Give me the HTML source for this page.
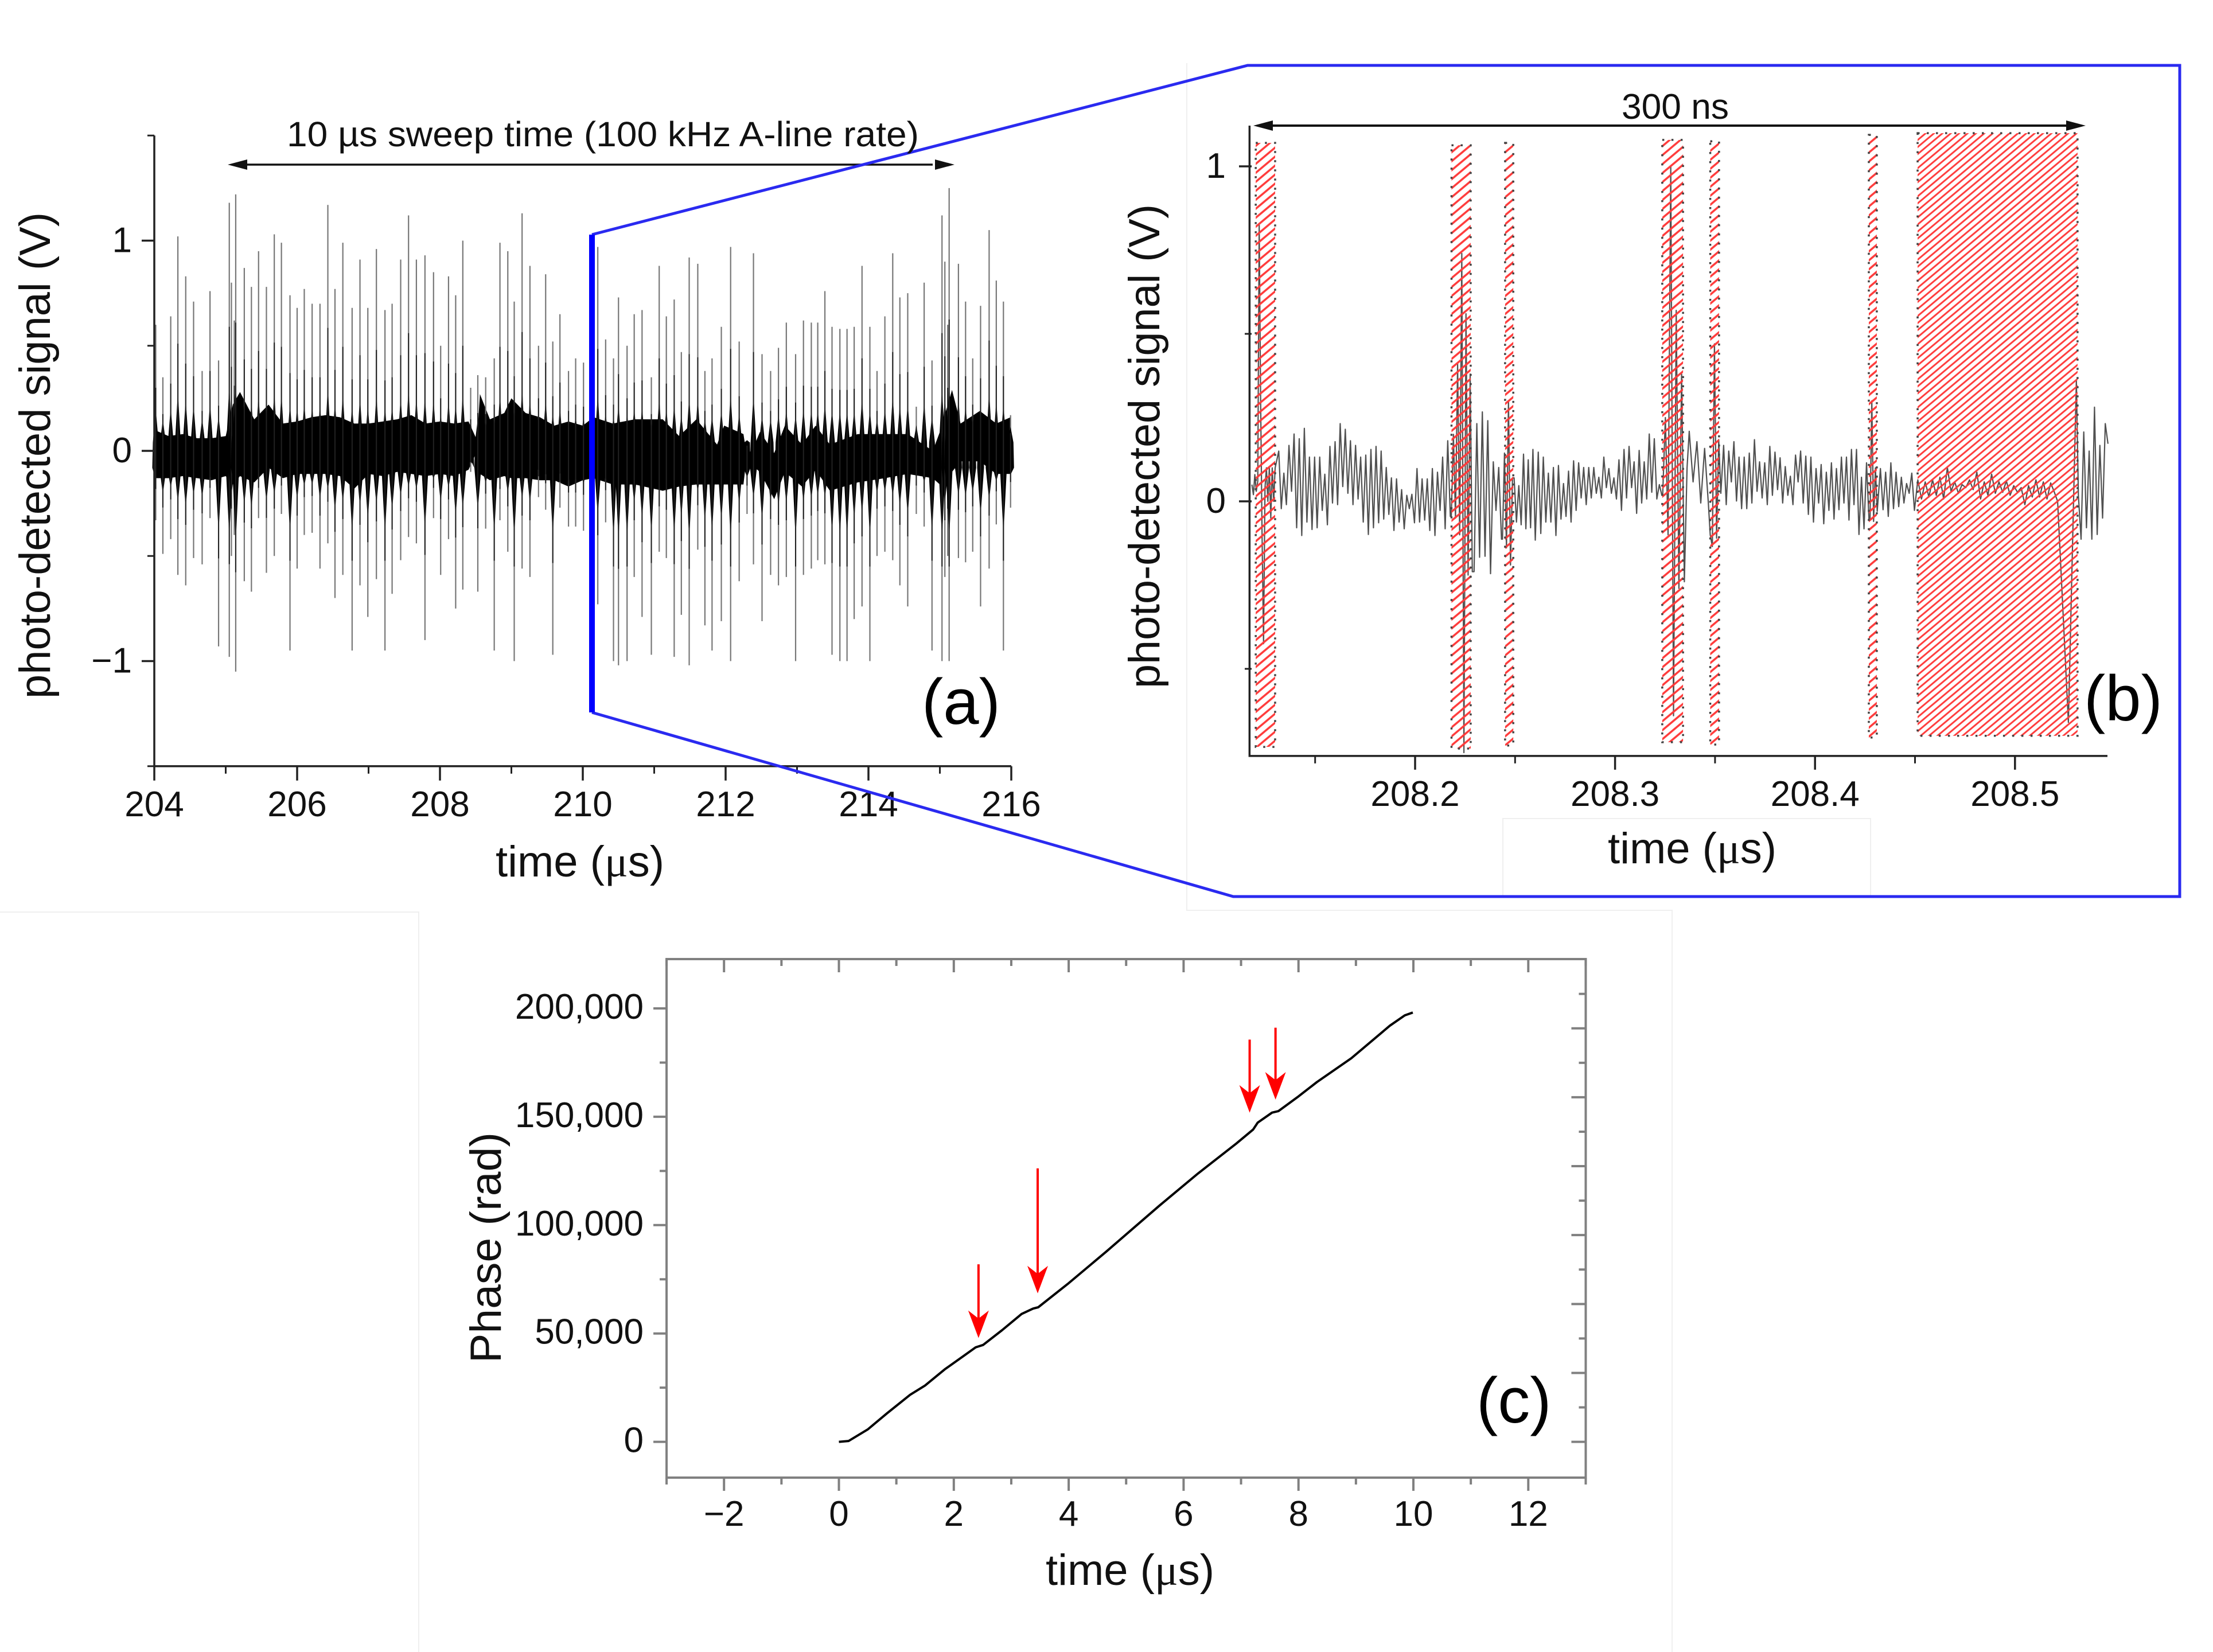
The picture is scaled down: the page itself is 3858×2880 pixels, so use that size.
<!DOCTYPE html>
<html lang="en">
<head>
<meta charset="utf-8">
<title>Photo-detected signal and phase</title>
<style>
html,body{margin:0;padding:0;background:#fff;}
svg{display:block;}
text{font-family:"Liberation Sans",sans-serif;fill:#111;}
.tick{font-size:62px;}
.title{font-size:76px;}
.serif{font-family:"Liberation Serif",serif;}
.panel{font-size:112px;fill:#000;}
</style>
</head>
<body>
<svg id="figure" xmlns="http://www.w3.org/2000/svg" width="3858" height="2880" viewBox="0 0 3858 2880">
  <defs>
    <pattern id="hatch-wide" patternUnits="userSpaceOnUse" width="40" height="12" patternTransform="rotate(-40)">
      <line x1="0" y1="6" x2="40" y2="6" stroke="#ff3a3a" stroke-width="3.6"/>
    </pattern>
    <pattern id="hatch-dense" patternUnits="userSpaceOnUse" width="40" height="9.4" patternTransform="rotate(-40)">
      <line x1="0" y1="4.7" x2="40" y2="4.7" stroke="#ff3a3a" stroke-width="3"/>
    </pattern>
  </defs>

  <g id="page-seams" stroke="#efefef" stroke-width="2" fill="none">
    <path d="M0 1590H730V2880"/>
    <path d="M2069 110V1587H2915V2880"/>
    <path d="M2620 1563V1427H3261V1563"/>
  </g>

  <g id="panel-a"></g>
  <g id="panel-b"></g>
  <g id="panel-c"></g>

  <g fill="none" stroke="#2a2af0">
    <path d="M1032 409L2175 114H3800V1563H2150L1032 1242" stroke-width="5"/>
    <line x1="1032" y1="409" x2="1032" y2="1242" stroke="#0000ff" stroke-width="10"/>
  </g>

  <text class="title" transform="translate(87 794) rotate(-90)" text-anchor="middle" textLength="848" lengthAdjust="spacingAndGlyphs">photo-detected signal (V)</text>
  <text class="title" x="1011" y="1528" text-anchor="middle">time (<tspan class="serif">μ</tspan>s)</text>
  <text x="500" y="255" font-size="61" textLength="1102" lengthAdjust="spacingAndGlyphs">10 µs sweep time (100 kHz A-line rate)</text>
  <text class="panel" x="1607" y="1262">(a)</text>

  <text class="title" transform="translate(2021 778) rotate(-90)" text-anchor="middle" textLength="844" lengthAdjust="spacingAndGlyphs">photo-detected signal (V)</text>
  <text class="title" x="2950" y="1505" text-anchor="middle">time (<tspan class="serif">μ</tspan>s)</text>
  <text x="2827" y="207" font-size="62" textLength="187" lengthAdjust="spacingAndGlyphs">300 ns</text>
  <text class="panel" x="3633" y="1256">(b)</text>

  <text class="title" transform="translate(873 2175) rotate(-90)" text-anchor="middle" textLength="402" lengthAdjust="spacingAndGlyphs">Phase (rad)</text>
  <text class="title" x="1970" y="2763" text-anchor="middle">time (<tspan class="serif">μ</tspan>s)</text>
  <text class="panel" x="2574" y="2480">(c)</text>
</svg>

<script>
// ---------- panel (a) data ----------
const aTickLabels = [204, 206, 208, 210, 212, 214, 216];
const aMinorTicks = [205, 207, 209, 211, 213, 215];
const aYTicks = [1, 0, -1];
const aYMinor = [1.5, 0.5, -0.5, -1.5];
const aSpikeTimes = [204.02,204.12,204.23,204.33,204.44,204.55,204.67,204.78,204.90,205.05,205.08,205.12,205.14,205.26,205.36,205.46,205.57,205.68,205.78,205.90,206.00,206.10,206.21,206.32,206.43,206.53,206.64,206.77,206.88,206.99,207.11,207.23,207.33,207.45,207.56,207.67,207.79,207.91,208.01,208.12,208.22,208.32,208.43,208.53,208.64,208.76,208.84,208.95,209.04,209.15,209.26,209.38,209.48,209.58,209.68,209.80,209.90,210.01,210.21,210.32,210.43,210.50,210.62,210.72,210.83,210.96,211.07,211.17,211.28,211.38,211.49,211.61,211.71,211.81,211.94,212.07,212.19,212.30,212.39,212.51,212.63,212.74,212.85,212.98,213.09,213.20,213.29,213.39,213.49,213.60,213.70,213.80,213.91,214.02,214.12,214.23,214.34,214.44,214.55,214.67,214.78,214.89,215.03,215.07,215.11,215.13,215.26,215.36,215.46,215.57,215.69,215.79,215.89,215.99];
const aSpikeTops = [0.60,0.35,0.64,1.02,0.83,0.71,0.38,0.76,0.43,1.18,0.80,0.62,1.22,0.87,0.78,0.95,0.78,1.03,0.99,0.74,0.68,0.77,0.70,0.70,1.17,0.77,0.99,0.68,0.91,0.68,0.96,0.67,0.70,0.91,1.12,0.91,0.93,0.85,0.50,0.83,0.74,1.00,0.30,0.36,0.35,0.44,0.99,0.95,0.71,1.13,0.88,0.50,0.84,0.52,0.65,0.38,0.44,0.42,0.97,0.53,0.44,0.73,0.50,0.65,0.67,0.35,0.88,0.64,0.72,0.47,0.92,0.89,0.38,0.44,0.59,0.97,0.52,0.05,0.94,0.46,0.38,0.49,0.61,0.46,0.62,0.61,0.61,0.76,0.59,0.58,0.58,0.59,0.88,0.59,0.38,0.64,0.94,0.73,0.75,0.21,0.80,0.43,1.12,0.90,0.60,1.25,0.89,0.71,0.44,0.69,1.05,0.81,0.71,0.17];
const aSpikeBottoms = [-0.33,-0.49,-0.42,-0.59,-0.64,-0.51,-0.54,-0.32,-0.93,-0.98,-0.50,-0.40,-1.05,-0.62,-0.67,-0.32,-0.58,-0.50,-0.30,-0.95,-0.56,-0.40,-0.39,-0.56,-0.44,-0.70,-0.59,-0.95,-0.64,-0.79,-0.61,-0.95,-0.68,-0.52,-0.41,-0.44,-0.90,-0.32,-0.59,-0.42,-0.75,-0.66,-0.10,-0.67,-0.37,-0.95,-0.33,-0.48,-1.00,-0.56,-0.60,-0.22,-0.28,-0.97,-0.27,-0.36,-0.36,-0.38,-0.73,-0.34,-1.00,-1.02,-1.00,-0.60,-0.79,-0.97,-0.48,-0.51,-0.98,-0.78,-1.02,-0.47,-0.83,-0.95,-0.81,-1.00,-0.62,-0.30,-0.54,-0.81,-0.59,-0.64,-0.60,-1.00,-0.59,-0.56,-0.52,-0.54,-0.97,-1.00,-1.00,-0.80,-0.74,-1.00,-0.50,-0.48,-0.52,-0.64,-0.74,-0.30,-0.36,-0.95,-1.00,-0.60,-0.50,-1.00,-0.51,-0.53,-0.48,-0.74,-0.56,-0.35,-0.95,-0.27];
const aBandTimes = [204.0,204.2,204.4,204.6,204.8,205.0,205.1,205.2,205.4,205.6,205.8,206.0,206.2,206.4,206.6,206.8,207.0,207.2,207.4,207.6,207.8,208.0,208.2,208.4,208.52,208.56,208.7,208.9,209.0,209.2,209.4,209.6,209.8,210.0,210.15,210.42,210.73,211.12,211.35,211.59,211.88,211.98,212.25,212.29,212.37,212.48,212.68,212.83,213.07,213.26,213.46,213.85,214.23,214.55,214.9,215.0,215.17,215.29,215.56,215.79,215.99];
const aBandHigh = [0.10,0.07,0.08,0.06,0.06,0.07,0.22,0.28,0.15,0.22,0.13,0.14,0.16,0.17,0.16,0.13,0.13,0.14,0.15,0.17,0.13,0.14,0.13,0.14,0.05,0.27,0.15,0.18,0.25,0.18,0.16,0.12,0.14,0.12,0.16,0.13,0.15,0.15,0.07,0.15,0.03,0.12,0.08,-0.01,0.00,0.09,-0.01,0.12,0.03,0.12,0.03,0.08,0.08,0.08,0.00,0.09,0.29,0.13,0.19,0.13,0.16];
const aBandLow = [-0.13,-0.13,-0.12,-0.13,-0.14,-0.12,-0.16,-0.12,-0.15,-0.08,-0.13,-0.11,-0.11,-0.11,-0.12,-0.18,-0.11,-0.12,-0.10,-0.11,-0.12,-0.11,-0.12,-0.09,0.00,-0.11,-0.14,-0.12,-0.13,-0.13,-0.14,-0.14,-0.17,-0.14,-0.13,-0.16,-0.16,-0.19,-0.17,-0.16,-0.16,-0.16,-0.16,-0.04,-0.07,-0.10,-0.23,-0.10,-0.17,-0.09,-0.19,-0.15,-0.13,-0.11,-0.13,-0.16,-0.10,-0.05,-0.05,-0.11,-0.11];

// ---------- panel (b) data ----------
const bTickLabels = ['208.2', '208.3', '208.4', '208.5'];
const bTickValues = [208.2, 208.3, 208.4, 208.5];
const bMinorTicks = [208.15, 208.25, 208.35, 208.45];
const bYTicks = [1, 0];
const bYMinor = [0.5, -0.5];
const bBoxStarts = [208.1203,208.2182,208.2450,208.3236,208.3476,208.4269,208.4513];
const bBoxEnds = [208.1300,208.2278,208.2491,208.3340,208.3520,208.4309,208.5313];
const bBoxTops = [1.07,1.063,1.07,1.079,1.075,1.094,1.099];
const bBoxBottoms = [-0.733,-0.738,-0.729,-0.719,-0.726,-0.705,-0.70];
const bSegStart = [0.05,0.02,0.08,0.03,0.06,0.825,0.30,-0.10,-0.425,0.04,0.10,0.00,0.10,-0.05,0.10,0.00,0.10];
const bSegA = [0.150,-0.022,0.084,-0.010,0.167,0.030,0.201,-0.079,0.187,-0.102,0.218,-0.062,0.132,-0.084,0.132,-0.079,0.132,-0.027,0.081,-0.070,0.164,-0.005,0.178,-0.010,0.232,0.044,0.215,0.024,0.181,-0.010,0.167,0.007,0.132,-0.062,0.138,-0.099,0.155,-0.079,0.164,-0.064,0.150,-0.053,0.101,-0.039,0.070,-0.087,0.067,-0.062,0.035,-0.082,0.018,-0.022,0.021,-0.064,0.098,-0.062,0.067,-0.056,0.067,-0.087,0.098,-0.102,0.087,-0.027,0.132,-0.082,0.181,-0.045];
const bBurst1 = [-0.045,0.20,-0.05,0.41,-0.10,0.74,-0.75,0.56,-0.22,0.38,-0.21];
const bSegB = [-0.21,0.232,-0.167,0.267,-0.164,0.241,-0.216,0.118,-0.027,0.101,-0.113];
const bBurst2 = [-0.113,0.144,-0.139,0.30,-0.19,0.07];
const bSegC = [0.07,-0.062,0.047,-0.070,0.141,-0.082,0.124,-0.079,0.155,-0.116];
const bSegD = [0.147,-0.096,0.132,-0.062,0.084,-0.062,0.101,-0.102,0.107,-0.053,0.053,-0.045,0.090,-0.062,0.121,-0.027,0.115,0.010,0.101,-0.010,0.101,0.010,0.101,0.024,0.072,0.010,0.132,0.041,0.098,0.024,0.070,0.007,0.124,-0.027,0.155,0.010,0.164,0.041,0.118,-0.036,0.152,-0.005,0.118,0.007,0.201,0.027,0.187,0.007,0.050,0.018];
const bBurst3 = [0.018,0.25,-0.10,1.00,-0.64,0.57,-0.26,0.38,-0.24,0.10];
const bSegE = [0.209,0.058,0.178,-0.005,0.158,-0.010];
const bBurst4 = [-0.10,-0.135,0.47,-0.11,0.184,0.024];
const bSegF = [0.167,-0.010,0.150,0.058,0.178,0.001,0.132,-0.022,0.132,-0.022,0.144,-0.005,0.184,0.030,0.118,0.010,0.115,-0.010,0.164,0.018,0.147,0.035,0.130,-0.005,0.104,0.018,0.075,-0.010,0.138,0.058,0.150,-0.005,0.135,-0.039,0.132,-0.062,0.098,-0.005,0.110,-0.067,0.087,-0.027,0.115,-0.053];
const bSegG = [0.098,-0.025,0.132,-0.005,0.132,-0.056,0.155,-0.010,0.155,-0.099,0.072,-0.082,0.115,-0.056];
const bBurst5 = [-0.056,0.30,-0.06,0.10,-0.03];
const bSegH = [0.098,-0.025,0.087,-0.045,0.115,-0.022,0.087,-0.016,0.072,-0.005,0.053,0.024,0.084,-0.027];
const bSegFlat = [0.064,0.007,0.058,0.013,0.064,0.018,0.072,0.007,0.101,0.030,0.058,0.024,0.050,0.041,0.064,0.035,0.087,0.007,0.058,0.018,0.081,0.024,0.058,0.027,0.061,0.018,0.047,0.027,0.041,-0.010,0.047,0.013,0.064,0.013,0.058,0.007,0.055,0.027];
const bSegDrop = [0.00,-0.66];
const bSegRise = [-0.66,0.36];
const bSegEnd = [0.018,-0.113,0.207,-0.079,0.150,-0.113,0.281,-0.099,0.167,-0.05,0.232,0.172];
const bSegmentTimes = [[208.1184,208.1300],[208.1318,208.2176],[208.2181,208.2286],[208.2295,208.2432],[208.2437,208.2487],[208.2495,208.2601],[208.2616,208.3234],[208.3238,208.3360],[208.3371,208.3467],[208.3476,208.3529],[208.3543,208.4095],[208.4107,208.4270],[208.4275,208.4311],[208.4327,208.4497],[208.4514,208.5197],[208.5213,208.5267],[208.5267,208.5307],[208.5317,208.5465]];
const bSegmentValues = [bSegStart,bSegA,bBurst1,bSegB,bBurst2,bSegC,bSegD,bBurst3,bSegE,bBurst4,bSegF,bSegG,bBurst5,bSegH,bSegFlat,bSegDrop,bSegRise,bSegEnd];

// ---------- panel (c) data ----------
const cXTicks = [-2, 0, 2, 4, 6, 8, 10, 12];
const cXMinor = [-3, -1, 1, 3, 5, 7, 9, 11, 13];
const cYTicks = [0, 50000, 100000, 150000, 200000];
const cYLabels = ['0', '50,000', '100,000', '150,000', '200,000'];
const cYMinor = [25000, 75000, 125000, 175000];
const cRightMajor = [0, 31800, 63600, 95400, 127200, 159000, 190800];
const cRightMinor = [15900, 47700, 79500, 111300, 143100, 174900, 206700];
const cTimes = [0,0.17,0.5,0.84,1.24,1.5,1.84,2.18,2.38,2.51,2.84,3.18,3.38,3.47,3.98,4.65,5.58,6.25,6.92,7.21,7.29,7.54,7.65,7.98,8.32,8.92,9.59,9.85,9.99];
const cPhases = [0,400,5700,13200,21700,26000,33400,39800,43600,44700,51500,59000,61500,62100,72800,87700,109000,123800,137700,144100,147300,151900,152600,159000,166000,177000,192000,196800,198100];
const cArrowTimes = [2.43, 3.46, 7.15, 7.6];
const cArrowFrom = [81900, 126200, 185600, 191100];
const cArrowTo = [47900, 68500, 151900, 157900];

// ---------- helpers ----------
const SVGNS = 'http://www.w3.org/2000/svg';
function mk(tag, attrs, parent) {
  const e = document.createElementNS(SVGNS, tag);
  for (const k in attrs) e.setAttribute(k, attrs[k]);
  parent.appendChild(e);
  return e;
}
const pa = document.getElementById('panel-a');
const pb = document.getElementById('panel-b');
const pc = document.getElementById('panel-c');

// ---------- panel (a) axes ----------
const xA = t => 269 + (t - 204) * 124.5;
const yA = v => 786 - v * 366.5;

const aBand = mk('path', {
  d: 'M' + aBandTimes.map((t, i) => xA(t).toFixed(1) + ' ' + yA(aBandHigh[i]).toFixed(1)).join('L') +
     'L' + aBandTimes.map((t, i) => xA(t).toFixed(1) + ' ' + yA(aBandLow[i]).toFixed(1)).reverse().join('L') + 'Z',
  fill: '#000'
}, pa);



aSpikeTimes.forEach((t, i) => {
  const sp = mk('line', {x1: xA(t), x2: xA(t), y1: yA(aSpikeTops[i]), y2: yA(aSpikeBottoms[i]), stroke: '#777', 'stroke-width': 2.2}, pa);
  
  
  const ft = mk('path', {
    d: 'M' + (xA(t) - 5) + ' ' + yA(0.04) + 'L' + xA(t) + ' ' + yA(Math.min(aSpikeTops[i] * 0.2 + 0.08, aSpikeTops[i])) + 'L' + (xA(t) + 5) + ' ' + yA(0.04) +
       'L' + (xA(t) + 6) + ' ' + yA(-0.08) + 'L' + xA(t) + ' ' + yA(Math.max(aSpikeBottoms[i] * 0.42, aSpikeBottoms[i])) + 'L' + (xA(t) - 6) + ' ' + yA(-0.08) + 'Z',
    fill: '#000'
  }, pa);
  
  
  const st = mk('line', {x1: xA(t), x2: xA(t), y1: yA(aSpikeTops[i] * 0.5), y2: yA(aSpikeBottoms[i] * 0.55), stroke: '#222', 'stroke-width': 2}, pa);
  
  
});

const aAxis = mk('path', {d: 'M' + xA(204) + ' ' + yA(1.5) + 'V' + yA(-1.5) + 'H' + xA(216), fill: 'none', stroke: '#222', 'stroke-width': 3.5}, pa);


aTickLabels.forEach(t => {
  const k = mk('line', {x1: xA(t), x2: xA(t), y1: yA(-1.5), y2: yA(-1.5) + 25, stroke: '#222', 'stroke-width': 3.5}, pa);
  
  
  const l = mk('text', {x: xA(t), y: 1423, 'text-anchor': 'middle', class: 'tick'}, pa);
  l.textContent = t;
  
  
});
aMinorTicks.forEach(t => {
  const k = mk('line', {x1: xA(t), x2: xA(t), y1: yA(-1.5), y2: yA(-1.5) + 13, stroke: '#222', 'stroke-width': 3}, pa);
  
  
});
aYTicks.forEach(v => {
  const k = mk('line', {x1: xA(204) - 22, x2: xA(204), y1: yA(v), y2: yA(v), stroke: '#222', 'stroke-width': 3.5}, pa);
  
  
  const l = mk('text', {x: 230, y: yA(v) + 20, 'text-anchor': 'end', class: 'tick'}, pa);
  l.textContent = v < 0 ? '\u2212' + Math.abs(v) : String(v);
  
  
});
aYMinor.forEach(v => {
  const k = mk('line', {x1: xA(204) - 12, x2: xA(204), y1: yA(v), y2: yA(v), stroke: '#222', 'stroke-width': 3}, pa);
  
  
});
const aArrow = mk('path', {d: 'M431 287H1626', stroke: '#111', 'stroke-width': 3.5, fill: 'none'}, pa);


const aHeads = mk('path', {d: 'M397 287L431 278V296ZM1664 287L1630 278V296Z', fill: '#111'}, pa);



// ---------- panel (b) ----------
const xB = t => 2467 + (t - 208.2) * 3486;
const yB = v => 874 - v * 584;

let bPts = [];
bSegmentValues.forEach((vals, s) => {
  const t0 = bSegmentTimes[s][0], t1 = bSegmentTimes[s][1];
  vals.forEach((v, i) => {
    const t = t0 + (t1 - t0) * i / Math.max(1, vals.length - 1);
    bPts.push(xB(t).toFixed(1) + ' ' + yB(v).toFixed(1));
  });
});
const bTrace = mk('path', {d: 'M' + bPts.join('L'), fill: 'none', stroke: '#333', 'stroke-width': 2.2, 'stroke-linejoin': 'round', opacity: 0.85}, pb);



bBoxStarts.forEach((t, i) => {
  const wide = i === 6;
  const r = mk('rect', {
    x: xB(t), y: yB(bBoxTops[i]), width: xB(bBoxEnds[i]) - xB(t), height: yB(bBoxBottoms[i]) - yB(bBoxTops[i]),
    fill: wide ? 'url(#hatch-dense)' : 'url(#hatch-wide)', stroke: '#444', 'stroke-width': 3.5, 'stroke-dasharray': '3.5 12.5'
  }, pb);
  
  
});

const bAxis = mk('path', {d: 'M' + xB(208.1172) + ' 219V' + yB(-0.76) + 'H3674', fill: 'none', stroke: '#222', 'stroke-width': 3.5}, pb);


bTickValues.forEach((t, i) => {
  const k = mk('line', {x1: xB(t), x2: xB(t), y1: yB(-0.76), y2: yB(-0.76) + 24, stroke: '#222', 'stroke-width': 3.5}, pb);
  
  
  const l = mk('text', {x: xB(t), y: 1405, 'text-anchor': 'middle', class: 'tick'}, pb);
  l.textContent = bTickLabels[i];
  
  
});
bMinorTicks.forEach(t => {
  const k = mk('line', {x1: xB(t), x2: xB(t), y1: yB(-0.76), y2: yB(-0.76) + 13, stroke: '#222', 'stroke-width': 3}, pb);
  
  
});
bYTicks.forEach(v => {
  const k = mk('line', {x1: 2160, x2: 2182, y1: yB(v), y2: yB(v), stroke: '#222', 'stroke-width': 3.5}, pb);
  
  
  const l = mk('text', {x: 2137, y: yB(v) + 20, 'text-anchor': 'end', class: 'tick'}, pb);
  l.textContent = v;
  
  
});
bYMinor.forEach(v => {
  const k = mk('line', {x1: 2170, x2: 2182, y1: yB(v), y2: yB(v), stroke: '#222', 'stroke-width': 3}, pb);
  
  
});
const bArrow = mk('path', {d: 'M2215 219H3604', stroke: '#111', 'stroke-width': 4, fill: 'none'}, pb);


const bHeads = mk('path', {d: 'M2185 219L2219 210V228ZM3636 219L3602 210V228Z', fill: '#111'}, pb);



// ---------- panel (c) ----------
const xC = t => 1462.5 + t * 100.15;
const yC = p => 2513.6 - p * 0.003778;
const cTop = 1672, cBottom = 2576, cLeft = xC(-3), cRight = xC(13);
const GR = '#808080';

const cFrame = mk('rect', {x: cLeft, y: cTop, width: cRight - cLeft, height: cBottom - cTop, fill: 'none', stroke: GR, 'stroke-width': 4}, pc);



cXTicks.forEach(t => {
  const k = mk('line', {x1: xC(t), x2: xC(t), y1: cBottom, y2: cBottom + 23, stroke: GR, 'stroke-width': 4}, pc);
  
  
  const kt = mk('line', {x1: xC(t), x2: xC(t), y1: cTop, y2: cTop + 23, stroke: GR, 'stroke-width': 4}, pc);
  
  
  const l = mk('text', {x: xC(t), y: 2660, 'text-anchor': 'middle', class: 'tick'}, pc);
  l.textContent = t < 0 ? '\u2212' + Math.abs(t) : String(t);
  
  
});
cXMinor.forEach(t => {
  const k = mk('line', {x1: xC(t), x2: xC(t), y1: cBottom, y2: cBottom + 12, stroke: GR, 'stroke-width': 4}, pc);
  
  
  const kt = mk('line', {x1: xC(t), x2: xC(t), y1: cTop, y2: cTop + 12, stroke: GR, 'stroke-width': 4}, pc);
  
  
});
cYTicks.forEach((p, i) => {
  const k = mk('line', {x1: cLeft - 23, x2: cLeft, y1: yC(p), y2: yC(p), stroke: GR, 'stroke-width': 4}, pc);
  
  
  const l = mk('text', {x: 1122, y: yC(p) + 18, 'text-anchor': 'end', class: 'tick'}, pc);
  l.textContent = cYLabels[i];
  
  
});
cYMinor.forEach(p => {
  const k = mk('line', {x1: cLeft - 12, x2: cLeft, y1: yC(p), y2: yC(p), stroke: GR, 'stroke-width': 4}, pc);
  
  
});
cRightMajor.forEach(p => {
  const k = mk('line', {x1: cRight - 25, x2: cRight, y1: yC(p), y2: yC(p), stroke: GR, 'stroke-width': 4}, pc);
  
  
});
cRightMinor.forEach(p => {
  const k = mk('line', {x1: cRight - 12, x2: cRight, y1: yC(p), y2: yC(p), stroke: GR, 'stroke-width': 4}, pc);
  
  
});

const cLine = mk('polyline', {
  points: cTimes.map((t, i) => xC(t).toFixed(1) + ',' + yC(cPhases[i]).toFixed(1)).join(' '),
  fill: 'none', stroke: '#000', 'stroke-width': 4, 'stroke-linejoin': 'round'
}, pc);



cArrowTimes.forEach((t, i) => {
  const x = xC(t), y0 = yC(cArrowFrom[i]), y1 = yC(cArrowTo[i]);
  const sh = mk('line', {x1: x, x2: x, y1: y0, y2: y1 - 30, stroke: '#ff0000', 'stroke-width': 4}, pc);
  
  
  const hd = mk('path', {d: 'M' + x + ' ' + y1 + 'L' + (x - 18) + ' ' + (y1 - 48) + 'L' + x + ' ' + (y1 - 34) + 'L' + (x + 18) + ' ' + (y1 - 48) + 'Z', fill: '#ff0000'}, pc);
  
  
});
</script>
</body>
</html>
